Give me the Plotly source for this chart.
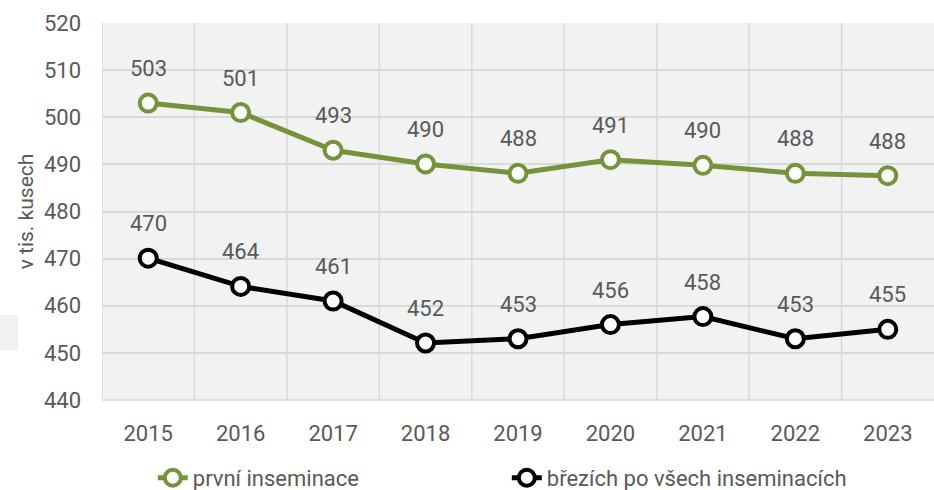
import plotly.graph_objects as go

years = ["2015", "2016", "2017", "2018", "2019", "2020", "2021", "2022", "2023"]
prvni = [503.0, 501.0, 493.0, 490.1, 488.1, 491.0, 489.8, 488.1, 487.6]
brezich = [470.1, 464.1, 461.0, 452.1, 453.0, 456.0, 457.7, 453.0, 455.0]

GREEN = "#76933c"
BLACK = "#000000"
GREY_TXT = "#595959"
FONT = "Roboto"

x = list(range(len(years)))

fig = go.Figure()
for name, vals, col in [("první inseminace", prvni, GREEN),
                        ("březích po všech inseminacích", brezich, BLACK)]:
    fig.add_trace(go.Scatter(
        x=x, y=vals, name=name,
        mode="lines+markers",
        line=dict(color=col, width=5),
        marker=dict(symbol="circle", size=17, color="white",
                    line=dict(color=col, width=4)),
        cliponaxis=False,
    ))
    # value labels above the points
    for xi, v in zip(x, vals):
        fig.add_annotation(x=xi, y=v, text=f"{v:.0f}", showarrow=False,
                           yanchor="bottom", yshift=20,
                           font=dict(family=FONT, size=22, color=GREY_TXT))

fig.update_layout(
    width=934, height=490,
    margin=dict(l=102, r=0, t=23, b=90, autoexpand=False),
    paper_bgcolor="white",
    plot_bgcolor="#f2f2f2",
    font=dict(family=FONT, size=22, color=GREY_TXT),
    showlegend=True,
    legend=dict(orientation="h", xref="container", yref="container",
                x=0.1636, xanchor="left", y=0.0245, yanchor="middle",
                entrywidth=309, entrywidthmode="pixels",
                font=dict(family=FONT, size=22, color=GREY_TXT)),
    xaxis=dict(
        tickmode="array", tickvals=x, ticktext=years,
        range=[-0.5, 8.5], automargin=False,
        showgrid=False, zeroline=False,
        tickfont=dict(family=FONT, size=22, color=GREY_TXT),
        ticks="", ticklabelstandoff=18,
    ),
    yaxis=dict(
        range=[440, 520], dtick=10, automargin=False,
        showgrid=True, gridcolor="#d9d9d9", gridwidth=1.5,
        zeroline=False,
        tickfont=dict(family=FONT, size=22, color=GREY_TXT),
        ticks="", ticklabelstandoff=20,
        title=dict(text="v tis. kusech", standoff=4,
                   font=dict(family=FONT, size=21, color=GREY_TXT)),
    ),
)

# vertical separators between categories
for i in range(len(years)):
    fig.add_shape(type="line", xref="x", yref="paper",
                  x0=i - 0.5, x1=i - 0.5, y0=0, y1=1,
                  line=dict(color="#d9d9d9", width=1.5), layer="below")
fig.add_shape(type="line", xref="paper", yref="paper", x0=0, x1=1, y0=0, y1=0,
              line=dict(color="#d9d9d9", width=1.5), layer="below")

# faint grey patch at the left edge
fig.add_shape(type="rect", xref="paper", yref="paper",
              x0=-102 / 832, x1=-84 / 832, y0=50 / 377, y1=85 / 377,
              fillcolor="#f2f2f2", line=dict(width=0), layer="below")

# drop the browser's default body margin so the figure sits at 0,0
fig.write_html("out.html", config={"displayModeBar": False},
               post_script="document.body.style.margin='0';")
